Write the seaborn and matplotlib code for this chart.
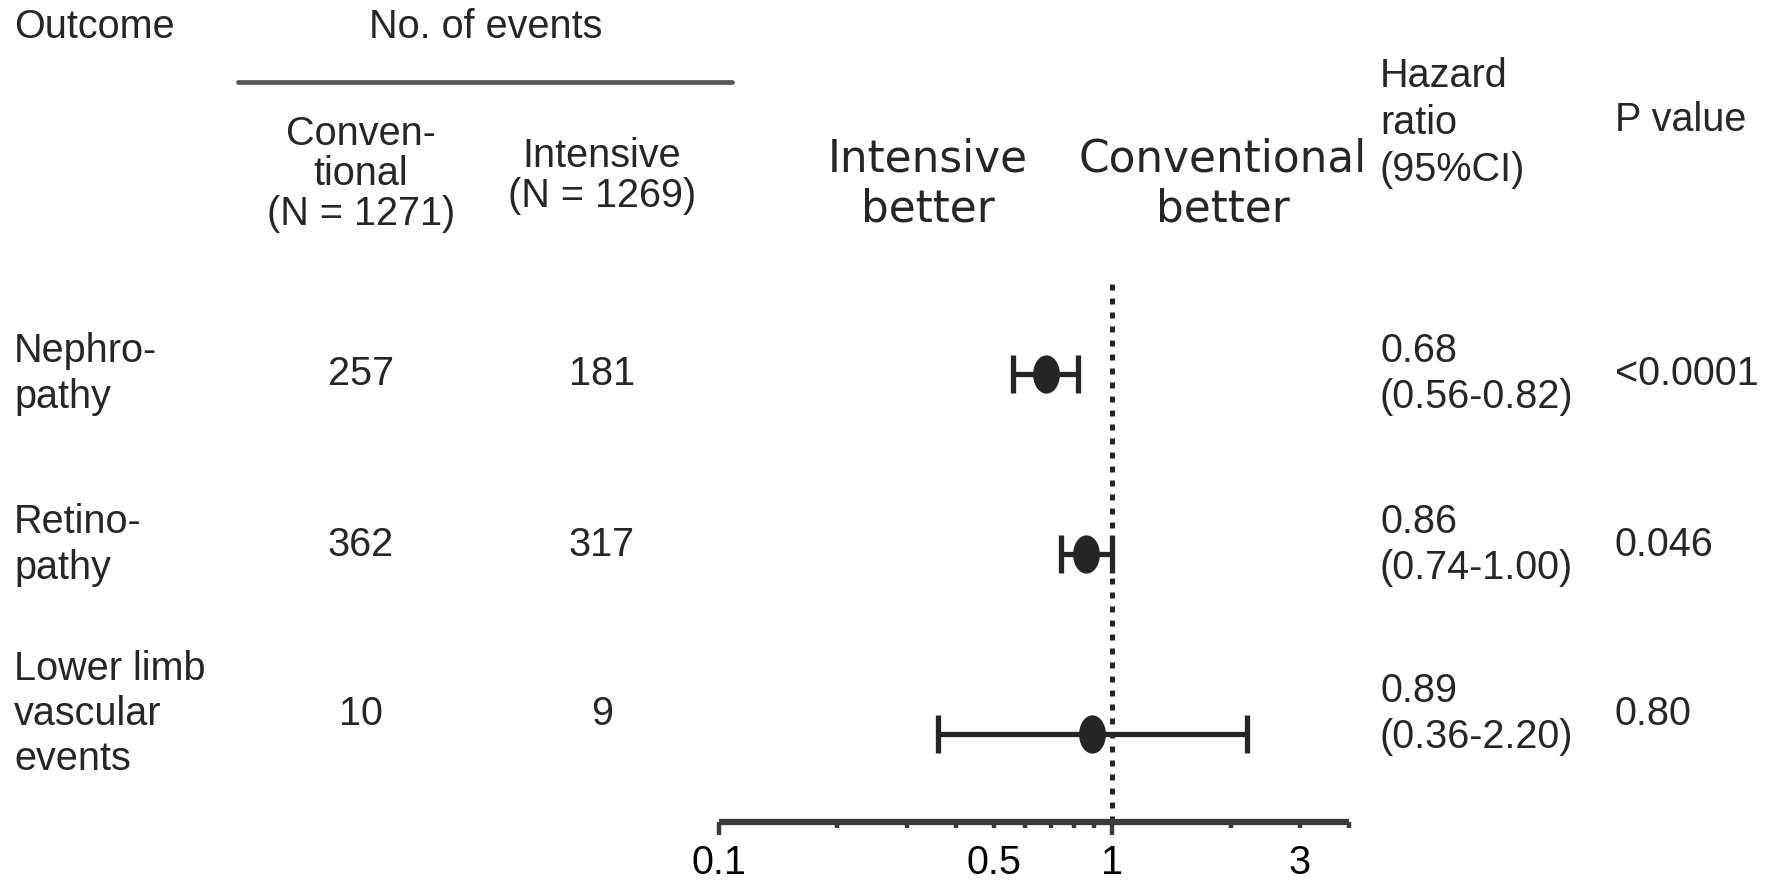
import numpy as np
import pandas as pd
import matplotlib
matplotlib.use("Agg")
import matplotlib.pyplot as plt
import seaborn as sns
from matplotlib.path import Path
from matplotlib.ticker import FixedLocator, FixedFormatter

# ---------------- data ----------------
outcomes = ["Nephro-\npathy", "Retino-\npathy", "Lower limb\nvascular\nevents"]
events_conventional = ["257", "362", "10"]
events_intensive = ["181", "317", "9"]
hr = [0.68, 0.86, 0.89]
ci_low = [0.56, 0.74, 0.36]
ci_high = [0.82, 1.00, 2.20]
hr_text = ["0.68\n(0.56-0.82)", "0.86\n(0.74-1.00)", "0.89\n(0.36-2.20)"]
p_values = ["<0.0001", "0.046", "0.80"]
major_ticks = [0.1, 1]
major_labels = ["0.1", "1"]
minor_ticks = [0.2, 0.3, 0.4, 0.5, 0.6, 0.7, 0.8, 0.9, 2, 3, 4]
minor_labels = ["", "", "", "0.5", "", "", "", "", "", "3", ""]

df = pd.DataFrame({"outcome": outcomes, "hr": hr, "lo": ci_low, "hi": ci_high,
                   "row": np.arange(len(outcomes))})

# ---------------- style ----------------
sns.set_theme(style="white")
plt.rcParams["font.family"] = ["Liberation Sans", "DejaVu Sans"]

W, H = 1771, 882
fig = plt.figure(figsize=(W / 100, H / 100), dpi=100)
fig.patch.set_facecolor("white")

def fx(x):
    return x / W

def fy(y):
    return 1 - y / H

FS = 28.5
MARK = "#262626"
AXC = "#3a3a3a"

ax = fig.add_axes([fx(719), fy(822), fx(1349) - fx(719), fy(280) - fy(822)])
ax.set_facecolor("none")

# ellipse marker (taller than wide)
t = np.linspace(0, 2 * np.pi, 60)
ell = Path(np.column_stack([0.70 * np.cos(t), np.sin(t)]), closed=True)

ax.errorbar(df["hr"], df["row"],
            xerr=[df["hr"] - df["lo"], df["hi"] - df["hr"]],
            fmt="none", ecolor=MARK, elinewidth=3.8, capsize=14,
            capthick=3.8, zorder=2)
sns.scatterplot(data=df, x="hr", y="row", marker=ell, s=760, color=MARK,
                edgecolor=MARK, linewidth=0, ax=ax, zorder=3, legend=False)

ax.axvline(1, color=MARK, lw=3.6, linestyle=(0, (1.2, 1.6)), zorder=1)

ax.set_xscale("log")
ax.set_xlim(0.1, 4)
# rows centred at 374, 554, 734 px with axes spanning 280..822 px
ax.set_ylim(2 + 88 / 180, -94 / 180)
ax.set_xlabel("")
ax.set_ylabel("")
ax.set_yticks([])
for s in ["left", "top", "right"]:
    ax.spines[s].set_visible(False)
ax.spines["bottom"].set_linewidth(4.5)
ax.spines["bottom"].set_color(AXC)
ax.spines["bottom"].set_capstyle("butt")

ax.xaxis.set_major_locator(FixedLocator(major_ticks))
ax.xaxis.set_major_formatter(FixedFormatter(major_labels))
ax.xaxis.set_minor_locator(FixedLocator(minor_ticks))
ax.xaxis.set_minor_formatter(FixedFormatter(minor_labels))
ax.tick_params(axis="x", which="major", direction="out", length=9, width=3.2,
               color=AXC, labelsize=FS, pad=7, labelcolor="black", bottom=True)
ax.tick_params(axis="x", which="minor", direction="out", length=4.5, width=3.2,
               color=AXC, labelsize=FS, pad=11.5, labelcolor="black", bottom=True)

# ---------------- header texts ----------------
fig.text(fx(14), fy(27), "Outcome", fontsize=FS, ha="left", va="center")
fig.text(fx(486), fy(27), "No. of events", fontsize=FS, ha="center", va="center")
fig.add_artist(plt.Line2D([fx(238), fx(732)], [fy(82), fy(82)], color="#555555",
                          lw=3.4, transform=fig.transFigure))
fig.text(fx(361), fy(174), "Conven-\ntional\n(N = 1271)", fontsize=FS,
         ha="center", va="center", multialignment="center", linespacing=1.07)
fig.text(fx(602), fy(176), "Intensive\n(N = 1269)", fontsize=FS,
         ha="center", va="center", multialignment="center", linespacing=1.07)
fig.text(fx(928), fy(184), "Intensive\nbetter", fontsize=31.5, family="DejaVu Sans",
         ha="center", va="center", multialignment="center", linespacing=1.2)
fig.text(fx(1223), fy(184), "Conventional\nbetter", fontsize=31.5, family="DejaVu Sans",
         ha="center", va="center", multialignment="center", linespacing=1.2)
fig.text(fx(1380), fy(123), "Hazard\nratio\n(95%CI)", fontsize=FS,
         ha="left", va="center", linespacing=1.3)
fig.text(fx(1615), fy(120), "P value", fontsize=FS, ha="left", va="center")

# ---------------- row texts ----------------
row_y = [374, 545, 714]
for i in range(len(outcomes)):
    y = fy(row_y[i])
    fig.text(fx(14), y, outcomes[i], fontsize=FS, ha="left", va="center", linespacing=1.25)
    fig.text(fx(361), y, events_conventional[i], fontsize=FS, ha="center", va="center")
    fig.text(fx(602), y, events_intensive[i], fontsize=FS, ha="center", va="center")
    fig.text(fx(1380), y, hr_text[i], fontsize=FS, ha="left", va="center", linespacing=1.25)
    fig.text(fx(1615), y, p_values[i], fontsize=FS, ha="left", va="center")

fig.savefig("out.png", dpi=100, facecolor="white")
